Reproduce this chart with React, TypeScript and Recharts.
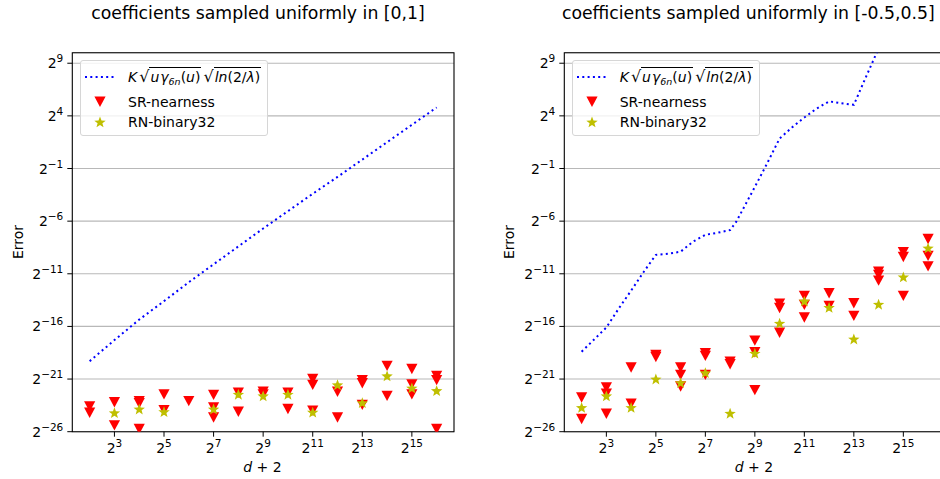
import { ComposedChart, Line, Scatter, XAxis, YAxis, CartesianGrid, ReferenceArea } from 'recharts';

// exponents: x = log2(d + 2), y = log2(error)
const xTicks = [3, 5, 7, 9, 11, 13, 15];
const yTicks = [-26, -21, -16, -11, -6, -1, 4, 9];

const leftBoundX = [2, 3, 4, 5, 6, 7, 8, 9, 10, 11, 12, 13, 14, 15, 16];
const leftBoundY = [-19.3, -17.3, -15.35, -13.6, -11.8, -10.1, -8.4, -6.7, -5.05, -3.4, -1.8, -0.15, 1.5, 3.15, 4.8];

const leftSrX = [2, 2, 3, 3, 4, 4, 4, 5, 5, 6, 7, 7, 7, 8, 8, 9, 9, 10, 10, 11, 11, 11, 12, 12, 13, 13, 13, 14, 14, 15, 15, 15, 16, 16, 16];
const leftSrY = [-23.6, -24.2, -23.2, -25.4, -23.1, -23.3, -25.75, -22.45, -23.95, -23.1, -22.5, -23.7, -24.65, -22.3, -24.1, -22.2, -22.45, -22.3, -23.85, -21.0, -21.55, -24.0, -22.2, -24.65, -21.1, -21.4, -23.45, -19.75, -22.6, -20.05, -21.5, -22.45, -20.7, -21.1, -25.75];

const leftRnX = [3, 4, 5, 7, 8, 9, 10, 11, 12, 13, 14, 15, 16];
const leftRnY = [-24.2, -23.85, -24.1, -23.85, -22.45, -22.6, -22.45, -24.15, -21.55, -23.25, -20.7, -21.85, -22.1];

const rightBoundX = [2, 3, 3.5, 4, 4.5, 5, 5.5, 6, 6.5, 7, 7.5, 8, 8.25, 9, 9.5, 10, 10.5, 11, 11.5, 12, 12.5, 13, 13.5, 14];
const rightBoundY = [-18.4, -16.1, -14.3, -12.6, -10.85, -9.2, -9.1, -8.9, -7.95, -7.3, -7.1, -6.85, -6.05, -2.75, -0.5, 1.85, 2.9, 3.85, 4.7, 5.38, 5.2, 5.05, 7.75, 10.4];

const rightSrX = [2, 2, 3, 3, 3, 4, 4, 5, 5, 6, 6, 6, 7, 7, 7, 8, 8, 9, 9, 9, 10, 10, 10, 11, 11, 11, 12, 12, 13, 13, 14, 14, 14, 15, 15, 15, 16, 16, 16];
const rightSrY = [-22.75, -24.8, -21.8, -22.4, -24.3, -19.9, -23.35, -18.7, -18.9, -19.9, -20.6, -21.7, -18.55, -18.8, -20.6, -19.35, -19.6, -17.35, -18.45, -22.05, -13.85, -14.25, -16.6, -13.1, -13.95, -15.15, -12.85, -14.05, -13.8, -15.0, -10.8, -11.1, -11.65, -8.95, -9.4, -13.1, -7.7, -9.3, -10.3];

const rightRnX = [2, 3, 4, 5, 6, 7, 8, 9, 10, 11, 12, 13, 14, 15, 16];
const rightRnY = [-23.7, -22.6, -23.7, -21.0, -21.35, -20.4, -24.25, -18.55, -15.7, -13.6, -14.2, -17.2, -13.9, -11.3, -8.55];

const FONT = 'DejaVu Sans';
const zip = (xs: number[], ys: number[]) => xs.map((x, i) => ({ x, y: ys[i] }));
const exp = (v: number) => String(v).replace('-', '\u2212');

const XTick = (props: any) => {
  const { x, y, payload } = props;
  return (
    <text x={x} y={y + 12} textAnchor="middle" fontFamily={FONT} fontSize={14} fill="#000">
      <tspan>2</tspan>
      <tspan dy={-6} fontSize={10.5}>{exp(payload.value)}</tspan>
    </text>
  );
};

const YTick = (props: any) => {
  const { x, y, payload } = props;
  return (
    <text x={x} y={y + 5} textAnchor="end" fontFamily={FONT} fontSize={14} fill="#000">
      <tspan>2</tspan>
      <tspan dy={-6} fontSize={10.5}>{exp(payload.value)}</tspan>
    </text>
  );
};

const Tri = (props: any) => {
  const { cx, cy } = props;
  return <path d={`M${cx - 5.6},${cy - 5.2} L${cx + 5.6},${cy - 5.2} L${cx},${cy + 5.2} Z`} fill="#ff0000" />;
};

const starPath = (cx: number, cy: number, r: number) => {
  const pts: string[] = [];
  for (let i = 0; i < 10; i++) {
    const rr = i % 2 === 0 ? r : r * 0.42;
    const a = (Math.PI / 5) * i - Math.PI / 2;
    pts.push(`${cx + rr * Math.cos(a)},${cy + rr * Math.sin(a)}`);
  }
  return `M${pts.join(' L')} Z`;
};

const Star = (props: any) => {
  const { cx, cy } = props;
  return <path d={starPath(cx, cy + 0.5, 6)} fill="#bfbf00" />;
};

interface PanelProps {
  left: number;
  width: number;
  marginLeft: number;
  marginRight: number;
  bound: { x: number; y: number }[];
  sr: { x: number; y: number }[];
  rn: { x: number; y: number }[];
}

function Panel({ left, width, marginLeft, marginRight, bound, sr, rn }: PanelProps) {
  return (
    <div style={{ position: 'absolute', left, top: 0 }}>
      <ComposedChart
        width={width}
        height={479}
        margin={{ top: 52.7, right: marginRight, bottom: 17.3, left: marginLeft }}
      >
        <CartesianGrid vertical={false} stroke="#b8b8b8" strokeWidth={1.1} />
        <XAxis
          type="number"
          dataKey="x"
          domain={[1.3, 16.7]}
          ticks={xTicks}
          interval={0}
          allowDataOverflow
          height={30}
          axisLine={false}
          tickLine={{ stroke: '#000' }}
          tickSize={5}
          tickMargin={4}
          tick={<XTick />}
        />
        <YAxis
          type="number"
          dataKey="y"
          domain={[-26, 10]}
          ticks={yTicks}
          interval={0}
          allowDataOverflow
          width={60}
          axisLine={false}
          tickLine={{ stroke: '#000' }}
          tickSize={5}
          tickMargin={4}
          tick={<YTick />}
        />
        <ReferenceArea x1={1.3} x2={16.7} y1={-26} y2={10} fill="none" fillOpacity={0} stroke="#000" strokeWidth={1.1} />
        <Line
          data={bound}
          dataKey="y"
          type="linear"
          stroke="#0000ff"
          strokeWidth={2}
          strokeDasharray="2 3.3"
          dot={false}
          isAnimationActive={false}
        />
        <Scatter data={sr} shape={<Tri />} isAnimationActive={false} />
        <Scatter data={rn} shape={<Star />} isAnimationActive={false} />
      </ComposedChart>
    </div>
  );
}

function LegendBox({ left }: { left: number }) {
  const row = (top: number, children: any) => (
    <div style={{ position: 'absolute', left: 47, top: top - 9, lineHeight: '18px', whiteSpace: 'nowrap' }}>
      {children}
    </div>
  );
  const over = { borderTop: '1px solid #000', paddingTop: 1, paddingLeft: 1, paddingRight: 1 };
  const root = { fontSize: 16, margin: '0 0 0 2px' };
  return (
    <div
      style={{
        position: 'absolute',
        left,
        top: 60,
        width: 188,
        height: 76,
        boxSizing: 'border-box',
        border: '1px solid #d6d6d6',
        borderRadius: 3,
        background: 'rgba(255,255,255,0.8)',
        fontFamily: FONT,
        fontSize: 14,
        color: '#000',
      }}
    >
      <svg width={188} height={76} style={{ position: 'absolute', left: -1, top: -1 }}>
        <line x1={5} y1={17} x2={34} y2={17} stroke="#0000ff" strokeWidth={2} strokeDasharray="2 3.3" />
        <Tri cx={20} cy={41.7} />
        <Star cx={20} cy={62} />
      </svg>
      {row(
        16,
        <span>
          <i>K</i>
          <span style={root}>√</span>
          <span style={over}>
            <i>u</i>
            <i style={{ marginLeft: 1 }}>γ</i>
            <i style={{ fontSize: 9.5, verticalAlign: -3 }}>6n</i>(<i>u</i>)
          </span>
          <span style={root}>√</span>
          <span style={over}>
            <i>ln</i>(2/<i>λ</i>)
          </span>
        </span>
      )}
      {row(40.7, 'SR-nearness')}
      {row(61, 'RN-binary32')}
    </div>
  );
}

export default function App() {
  return (
    <div style={{ position: 'absolute', left: 0, top: 0, width: 940, height: 479, overflow: 'hidden', background: '#fff' }}>
      <Panel
        left={0}
        width={470}
        marginLeft={12.3}
        marginRight={16}
        bound={zip(leftBoundX, leftBoundY)}
        sr={zip(leftSrX, leftSrY)}
        rn={zip(leftRnX, leftRnY)}
      />
      <Panel
        left={470}
        width={480}
        marginLeft={34.3}
        marginRight={4.6}
        bound={zip(rightBoundX, rightBoundY)}
        sr={zip(rightSrX, rightSrY)}
        rn={zip(rightRnX, rightRnY)}
      />
      <LegendBox left={80} />
      <LegendBox left={571.7} />
      <svg width={940} height={479} style={{ position: 'absolute', left: 0, top: 0, pointerEvents: 'none' }} fontFamily={FONT}>
        <text x={258} y={18.5} textAnchor="middle" fontSize={17.3}>coefficients sampled uniformly in [0,1]</text>
        <text x={748.3} y={18.5} textAnchor="middle" fontSize={17.3}>coefficients sampled uniformly in [-0.5,0.5]</text>
        <text x={22.5} y={242} textAnchor="middle" fontSize={14} transform="rotate(-90 22.5 242)">Error</text>
        <text x={514} y={242} textAnchor="middle" fontSize={14} transform="rotate(-90 514 242)">Error</text>
        <text x={262.5} y={472} textAnchor="middle" fontSize={14}>
          <tspan fontStyle="italic">d</tspan> + 2
        </text>
        <text x={754} y={472} textAnchor="middle" fontSize={14}>
          <tspan fontStyle="italic">d</tspan> + 2
        </text>
      </svg>
    </div>
  );
}
